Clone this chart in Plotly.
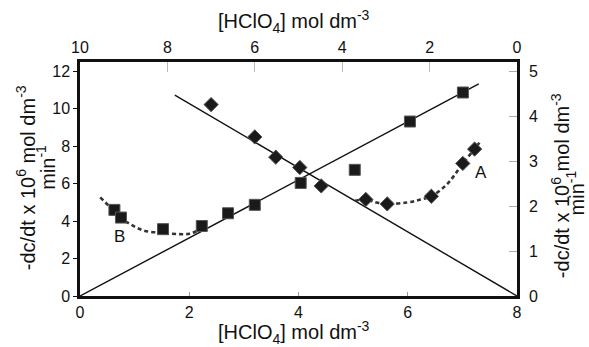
import plotly.graph_objects as go

# ---- data ----
# Series B: squares, bottom x-axis [HClO4] vs left y-axis rate
sq_x = [0.63, 0.75, 1.52, 2.23, 2.71, 3.20, 4.04, 5.03, 6.04, 7.01]
sq_y = [4.60, 4.19, 3.57, 3.74, 4.42, 4.87, 6.04, 6.74, 9.32, 10.87]
# straight line through squares
lineB_x = [0.0, 7.30]
lineB_y = [0.0, 11.33]
# dashed curve B
curveB_x = [0.37, 0.58, 0.73, 0.91, 1.16, 1.46, 1.65, 2.01, 2.19]
curveB_y = [5.27, 4.66, 4.21, 3.85, 3.50, 3.38, 3.33, 3.33, 3.55]

# Series A: diamonds, top x-axis [HClO4] vs right y-axis rate
dm_x = [7.00, 6.00, 5.52, 4.97, 4.48, 3.46, 2.97, 1.96, 1.24, 0.97]
dm_y = [4.26, 3.54, 3.09, 2.86, 2.45, 2.15, 2.05, 2.22, 2.95, 3.27]
# straight line through diamonds
lineA_x = [7.83, 0.0]
lineA_y = [4.47, 0.0]
# dashed curve A
curveA_x = [3.71, 3.46, 3.22, 2.97, 2.53, 2.23, 1.96, 1.62, 1.43, 1.24, 0.97, 0.86]
curveA_y = [2.12, 2.15, 2.08, 2.05, 2.08, 2.14, 2.22, 2.47, 2.69, 2.95, 3.27, 3.41]

bottom_ticks = [0, 2, 4, 6, 8]
top_ticks = [0, 2, 4, 6, 8, 10]
left_ticks = [0, 2, 4, 6, 8, 10, 12]
right_ticks = [0, 1, 2, 3, 4, 5]

FONT = "Liberation Sans, Arial, sans-serif"
INK = "#111111"

fig = go.Figure()

fig.add_trace(go.Scatter(x=lineB_x, y=lineB_y, mode="lines",
                         line=dict(color=INK, width=1.4), xaxis="x", yaxis="y"))
fig.add_trace(go.Scatter(x=curveB_x, y=curveB_y, mode="lines",
                         line=dict(color="#333333", width=2.6, dash="4px,3px", shape="spline"),
                         xaxis="x", yaxis="y"))
fig.add_trace(go.Scatter(x=sq_x, y=sq_y, mode="markers",
                         marker=dict(symbol="square", size=11, color="#1a1a1a",
                                     line=dict(color="#555555", width=1)),
                         xaxis="x", yaxis="y"))

fig.add_trace(go.Scatter(x=lineA_x, y=lineA_y, mode="lines",
                         line=dict(color=INK, width=1.4), xaxis="x2", yaxis="y2"))
fig.add_trace(go.Scatter(x=curveA_x, y=curveA_y, mode="lines",
                         line=dict(color="#333333", width=2.6, dash="4px,3px", shape="spline"),
                         xaxis="x2", yaxis="y2"))
fig.add_trace(go.Scatter(x=dm_x, y=dm_y, mode="markers",
                         marker=dict(symbol="diamond", size=11, color="#1a1a1a",
                                     line=dict(color="#555555", width=1)),
                         xaxis="x2", yaxis="y2"))

tickfont = dict(family=FONT, size=16, color=INK)
fig.update_layout(
    width=589, height=347,
    margin=dict(l=80, r=71.5, t=61.5, b=51),
    paper_bgcolor="white", plot_bgcolor="white",
    showlegend=False,
    font=dict(family=FONT, color=INK),
    xaxis=dict(range=[0, 8], tickvals=bottom_ticks, showgrid=False, zeroline=False,
               showline=True, linewidth=2.5, linecolor=INK,
               ticks="inside", ticklen=4, tickwidth=1, tickcolor="#999999",
               tickfont=tickfont, anchor="y"),
    xaxis2=dict(range=[10, 0], tickvals=top_ticks, showgrid=False, zeroline=False,
                showline=True, linewidth=2.5, linecolor=INK,
                ticks="inside", ticklen=10, tickwidth=1, tickcolor="#bbbbbb",
                tickfont=tickfont, overlaying="x", side="top", anchor="y"),
    yaxis=dict(range=[0, 12.5], tickvals=left_ticks, showgrid=False, zeroline=False,
               showline=True, linewidth=2.5, linecolor=INK,
               ticks="outside", ticklen=4, tickwidth=1, tickcolor=INK,
               tickfont=tickfont, anchor="x"),
    yaxis2=dict(range=[0, 12.5 * 5 / 12], tickvals=right_ticks, showgrid=False, zeroline=False,
                showline=True, linewidth=2.5, linecolor=INK,
                ticks="inside", ticklen=8, tickwidth=1, tickcolor="#aaaaaa",
                ticklabelstandoff=6,
                tickfont=tickfont, overlaying="y", side="right", anchor="x"),
)

title_font = dict(family=FONT, size=20, color=INK)
xtitle = "[HClO<sub>4</sub>] mol dm<sup>-3</sup>"
ytitle1 = "-dc/dt x 10<sup>6</sup> mol dm<sup>-3</sup>"
ytitle2 = "min<sup>-1</sup>"

ann = [
    dict(text=xtitle, x=0.49, y=1.175, xref="paper", yref="paper", showarrow=False,
         xanchor="center", yanchor="middle", font=title_font),
    dict(text=xtitle, x=0.49, y=-0.158, xref="paper", yref="paper", showarrow=False,
         xanchor="center", yanchor="middle", font=title_font),
    dict(text=ytitle1, x=-0.124, y=0.507, xref="paper", yref="paper", showarrow=False,
         xanchor="center", yanchor="middle", textangle=-90, font=title_font),
    dict(text=ytitle2, x=-0.079, y=0.55, xref="paper", yref="paper", showarrow=False,
         xanchor="center", yanchor="middle", textangle=-90, font=title_font),
    dict(text=ytitle1, x=1.098, y=0.473, xref="paper", yref="paper", showarrow=False,
         xanchor="center", yanchor="middle", textangle=-90, font=title_font),
    dict(text=ytitle2, x=1.133, y=0.439, xref="paper", yref="paper", showarrow=False,
         xanchor="center", yanchor="middle", textangle=-90, font=title_font),
    dict(text="A", x=0.82, y=2.76, xref="x2", yref="y2", showarrow=False,
         xanchor="center", yanchor="middle", font=dict(family=FONT, size=17, color=INK)),
    dict(text="B", x=0.73, y=3.18, xref="x", yref="y", showarrow=False,
         xanchor="center", yanchor="middle", font=dict(family=FONT, size=17, color=INK)),
]
fig.update_layout(annotations=ann)

fig.write_html("out.html", config={"displayModeBar": False},
               post_script="document.body.style.margin='0';")
